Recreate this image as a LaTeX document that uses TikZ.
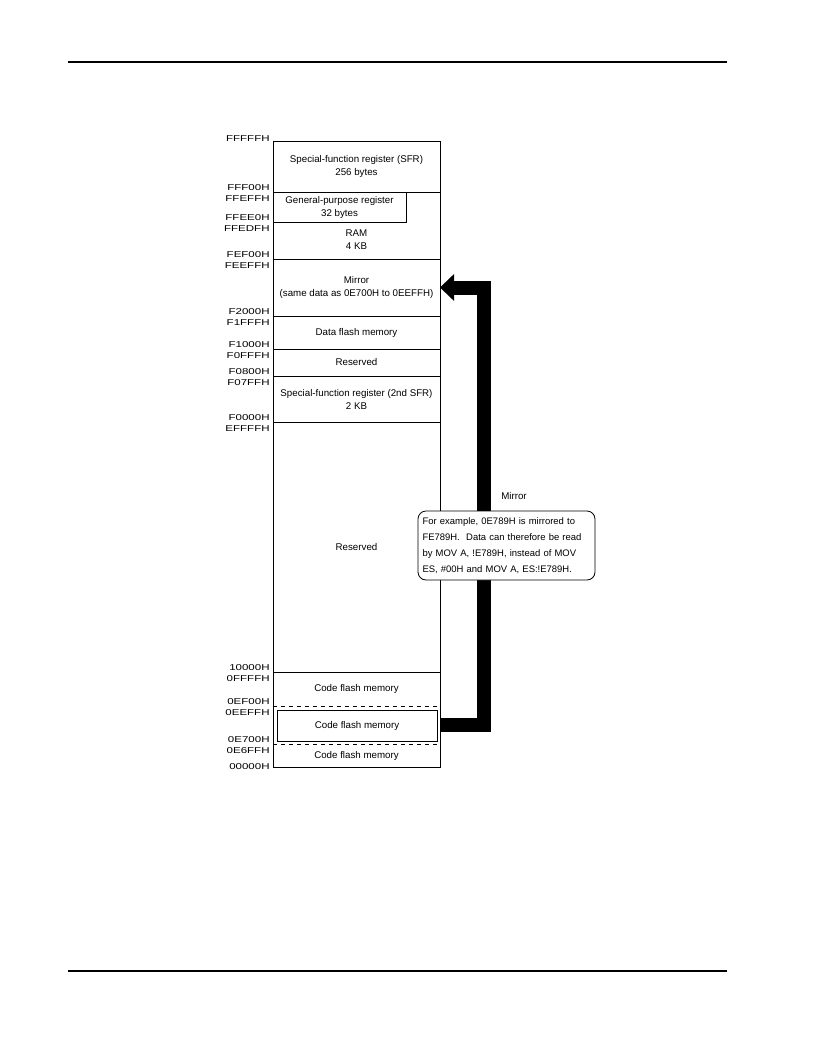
\documentclass[tikz,border=0pt]{standalone}
\usepackage{fontspec}
\setmainfont{Liberation Sans}
\newfontfamily\addrfont[FakeStretch=1.35]{Liberation Sans}
\usetikzlibrary{calc}
\usetikzlibrary{positioning}
\usetikzlibrary{arrows.meta}

\begin{document}
\begin{tikzpicture}[x=0.75pt,y=-0.75pt,line width=0.6pt,
  mem node/.style={draw,minimum width=125.25pt,inner sep=0pt,outer sep=0pt,
  align=center,font=\fontsize{7.3}{9.75}\selectfont},
  mem text/.style={align=center,font=\fontsize{7.3}{9.75}\selectfont},
  addr node/.style={anchor=base east,inner sep=0pt,font=\addrfont\fontsize{6.4}{6.5}\selectfont},
  mirror arrow/.style={line width=10.5pt,line join=miter,
  -{Triangle[length=10.5pt,width=19.5pt]}},
  rule line/.style={line width=1.5pt}]
  \useasboundingbox (0,0) rectangle (816,1056);
  \coordinate (hl) at (68,62);
  \coordinate (hr) at (727,62);
  \coordinate (fl) at (68,971);
  \coordinate (fr) at (727,971);
  \draw[rule line] (hl) -- (hr);
  \draw[rule line] (fl) -- (fr);

  % memory map, top to bottom
  \node[mem node,minimum height=38.25pt] (sfr) at (356.5,166.5)
    {Special-function register (SFR)\\256 bytes};
  \node[mem node,minimum height=50.25pt] (ram) [below=0pt of sfr] {};
  \node[mem node,minimum width=99.75pt,minimum height=22.5pt,anchor=north west]
    (gpr) at (ram.north west) {General-purpose register\\32 bytes};
  \node[mem text] (ramtxt) at ($(ram.center)+(0,14)$) {RAM\\4 KB};
  \node[mem node,minimum height=42.75pt] (mirror) [below=0pt of ram]
    {Mirror\\(same data as 0E700H to 0EEFFH)};
  \node[mem node,minimum height=24.75pt] (dflash) [below=0pt of mirror] {Data flash memory};
  \node[mem node,minimum height=20.25pt] (rsv1) [below=0pt of dflash] {Reserved};
  \node[mem node,minimum height=34.5pt] (sfr2) [below=0pt of rsv1]
    {Special-function register (2nd SFR)\\2 KB};
  \node[mem node,minimum height=187.5pt] (rsv2) [below=0pt of sfr2] {Reserved};
  \node[mem node,draw=none,minimum height=25.5pt] (cfm1) [below=0pt of rsv2] {Code flash memory};
  \node[mem node,draw=none,minimum height=28.5pt] (cfm2) [below=0pt of cfm1] {};
  \node[mem node,draw=none,minimum height=17.25pt] (cfm3) [below=0pt of cfm2] {Code flash memory};
  \node[mem node,minimum width=120pt,minimum height=23.25pt] (cfmbox)
    at ($(cfm2.center)+(0.5,0.5)$) {Code flash memory};
  \draw (cfm1.north west) rectangle (cfm3.south east);
  \draw[dashed] (cfm2.north west) -- (cfm2.north east);
  \draw[dashed] (cfm2.south west) -- (cfm2.south east);

  % addresses
  \node[addr node] (a00) at ($(sfr.north west)+(-3,0.5)$) {FFFFFH};
  \node[addr node] (a01) at ($(sfr.south west)+(-3,-1.5)$) {FFF00H};
  \node[addr node] (a02) at ($(ram.north west)+(-3,9.5)$) {FFEFFH};
  \node[addr node] (a03) at ($(gpr.south west)+(-3,-1.5)$) {FFEE0H};
  \node[addr node] (a04) at ($(gpr.south west)+(-3,9.5)$) {FFEDFH};
  \node[addr node] (a05) at ($(ram.south west)+(-3,-1.5)$) {FEF00H};
  \node[addr node] (a06) at ($(mirror.north west)+(-3,9.5)$) {FEEFFH};
  \node[addr node] (a07) at ($(mirror.south west)+(-3,-1.5)$) {F2000H};
  \node[addr node] (a08) at ($(dflash.north west)+(-3,9.5)$) {F1FFFH};
  \node[addr node] (a09) at ($(dflash.south west)+(-3,-1.5)$) {F1000H};
  \node[addr node] (a10) at ($(rsv1.north west)+(-3,9.5)$) {F0FFFH};
  \node[addr node] (a11) at ($(rsv1.south west)+(-3,-1.5)$) {F0800H};
  \node[addr node] (a12) at ($(sfr2.north west)+(-3,9.5)$) {F07FFH};
  \node[addr node] (a13) at ($(sfr2.south west)+(-3,-1.5)$) {F0000H};
  \node[addr node] (a14) at ($(rsv2.north west)+(-3,9.5)$) {EFFFFH};
  \node[addr node] (a15) at ($(rsv2.south west)+(-3,-1.5)$) {10000H};
  \node[addr node] (a16) at ($(cfm1.north west)+(-3,9.5)$) {0FFFFH};
  \node[addr node] (a17) at ($(cfm1.south west)+(-3,-1.5)$) {0EF00H};
  \node[addr node] (a18) at ($(cfm2.north west)+(-3,9.5)$) {0EEFFH};
  \node[addr node] (a19) at ($(cfm2.south west)+(-3,-1.5)$) {0E700H};
  \node[addr node] (a20) at ($(cfm3.north west)+(-3,9.5)$) {0E6FFH};
  \node[addr node] (a21) at ($(cfm3.south west)+(-3,2.5)$) {00000H};

  % mirror arrow
  \draw[mirror arrow] (cfm2.east) -- ++(43.5,0) |- (mirror.east);
  \node[mem text] (mirrorlbl) at (514,496) {Mirror};
  \node[draw,fill=white,rounded corners=6pt,minimum width=132.75pt,minimum height=51.75pt,
    text width=126pt,inner xsep=3pt,align=left,font=\fontsize{7.1}{12}\selectfont]
    (note) at (506.5,545.5)
    {For example, 0E789H is mirrored to\\FE789H.~~Data can therefore be read\\
     by MOV A, !E789H, instead of MOV\\ES, \#00H and MOV A, ES:!E789H.};
\end{tikzpicture}
\end{document}
